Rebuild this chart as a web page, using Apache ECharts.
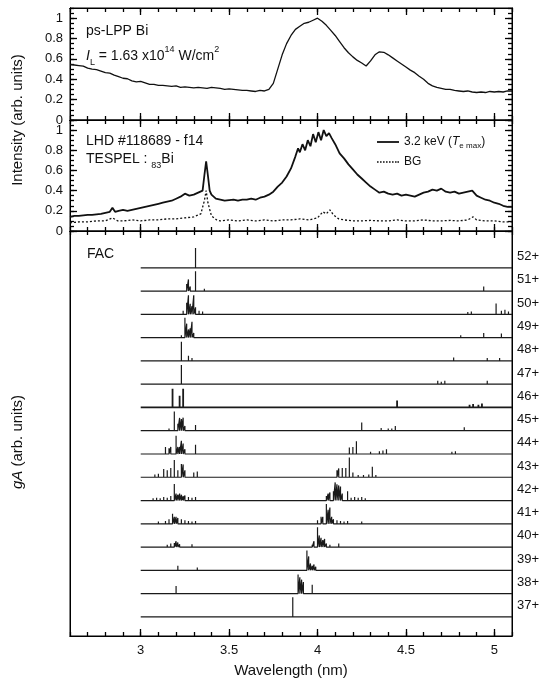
<!DOCTYPE html>
<html>
<head>
<meta charset="utf-8">
<script src="https://cdn.jsdelivr.net/npm/echarts@6/dist/echarts.min.js"></script>
<style>
html,body{margin:0;padding:0;background:#fff;}
#c{width:551px;height:686px;}
</style>
</head>
<body>
<div id="c"></div>
<script>
// ---------------- DATA ----------------
const X_MAJOR = [3, 3.5, 4, 4.5, 5];
const Y_MAJOR = [0, 0.2, 0.4, 0.6, 0.8, 1];

// ps-LPP Bi spectrum [wavelength nm, intensity]
const lppSpectrum = [
[2.600,0.545],[2.625,0.54],[2.650,0.535],[2.675,0.53],[2.700,0.51],[2.725,0.50],[2.750,0.495],[2.775,0.48],
[2.800,0.465],[2.825,0.46],[2.850,0.44],[2.875,0.425],[2.900,0.41],[2.925,0.405],[2.950,0.385],[2.975,0.375],
[3.000,0.38],[3.025,0.365],[3.050,0.35],[3.075,0.35],[3.100,0.34],[3.125,0.34],[3.150,0.335],[3.175,0.33],
[3.200,0.335],[3.225,0.32],[3.250,0.325],[3.275,0.32],[3.300,0.315],[3.325,0.32],[3.350,0.315],[3.375,0.31],
[3.400,0.32],[3.425,0.315],[3.450,0.31],[3.475,0.30],[3.500,0.305],[3.525,0.30],[3.550,0.295],[3.575,0.29],
[3.600,0.29],[3.625,0.285],[3.650,0.28],[3.675,0.29],[3.700,0.285],[3.725,0.30],[3.750,0.36],[3.775,0.50],
[3.800,0.64],[3.825,0.75],[3.850,0.83],[3.875,0.89],[3.900,0.92],[3.925,0.95],[3.950,0.96],[3.975,0.98],
[4.000,1.0],[4.025,0.97],[4.050,0.93],[4.075,0.88],[4.100,0.83],[4.125,0.77],[4.150,0.71],[4.175,0.66],
[4.200,0.62],[4.225,0.585],[4.250,0.56],[4.275,0.53],[4.300,0.58],[4.325,0.64],[4.350,0.67],[4.375,0.665],
[4.400,0.64],[4.425,0.61],[4.450,0.58],[4.475,0.55],[4.500,0.52],[4.525,0.49],[4.550,0.465],[4.575,0.43],
[4.600,0.40],[4.625,0.36],[4.650,0.335],[4.675,0.32],[4.700,0.31],[4.725,0.30],[4.750,0.30],[4.775,0.29],
[4.800,0.285],[4.825,0.28],[4.850,0.285],[4.875,0.275],[4.900,0.27],[4.925,0.275],[4.950,0.27],[4.975,0.28],
[5.000,0.275],[5.025,0.28],[5.050,0.275],[5.075,0.285],[5.100,0.285]
];

// LHD 3.2 keV spectrum
const lhdSpectrum = [
[2.600,0.14],[2.625,0.15],[2.650,0.15],[2.675,0.155],[2.700,0.16],[2.725,0.16],[2.750,0.165],[2.775,0.17],
[2.800,0.18],[2.825,0.19],[2.840,0.23],[2.855,0.19],[2.875,0.20],[2.900,0.21],[2.925,0.20],[2.950,0.21],
[2.975,0.22],[3.000,0.23],[3.025,0.24],[3.050,0.25],[3.075,0.26],[3.100,0.27],[3.125,0.28],[3.150,0.29],
[3.175,0.30],[3.200,0.32],[3.225,0.34],[3.250,0.37],[3.275,0.35],[3.300,0.36],[3.325,0.38],[3.350,0.40],
[3.360,0.55],[3.370,0.69],[3.380,0.55],[3.390,0.40],[3.400,0.36],[3.425,0.32],[3.450,0.31],[3.475,0.30],
[3.500,0.305],[3.525,0.31],[3.550,0.30],[3.575,0.31],[3.600,0.31],[3.625,0.32],[3.650,0.31],[3.675,0.33],
[3.700,0.34],[3.725,0.36],[3.750,0.39],[3.775,0.44],[3.800,0.48],[3.825,0.54],[3.850,0.62],[3.875,0.74],
[3.890,0.82],[3.900,0.78],[3.915,0.86],[3.930,0.80],[3.945,0.90],[3.960,0.84],[3.975,0.96],[3.990,0.88],
[4.005,0.98],[4.020,0.90],[4.035,1.0],[4.050,0.94],[4.065,0.97],[4.080,0.92],[4.100,0.86],[4.125,0.77],
[4.150,0.72],[4.175,0.66],[4.200,0.61],[4.225,0.56],[4.250,0.52],[4.275,0.48],[4.300,0.44],[4.325,0.41],
[4.350,0.38],[4.375,0.39],[4.400,0.37],[4.425,0.36],[4.450,0.37],[4.475,0.35],[4.500,0.36],[4.525,0.35],
[4.550,0.34],[4.575,0.36],[4.600,0.38],[4.625,0.39],[4.650,0.41],[4.675,0.40],[4.700,0.42],[4.725,0.39],
[4.750,0.38],[4.775,0.39],[4.800,0.37],[4.825,0.38],[4.850,0.39],[4.875,0.40],[4.900,0.35],[4.925,0.33],
[4.950,0.31],[4.975,0.30],[5.000,0.28],[5.025,0.27],[5.050,0.25],[5.075,0.24],[5.100,0.24]
];

// LHD background (BG)
const bgSpectrum = [
[2.60,0.08],[2.65,0.09],[2.70,0.09],[2.75,0.10],[2.80,0.10],[2.84,0.13],[2.87,0.10],[2.90,0.10],[2.95,0.11],
[3.00,0.10],[3.05,0.11],[3.10,0.11],[3.15,0.12],[3.20,0.12],[3.25,0.13],[3.30,0.14],[3.34,0.17],[3.36,0.30],
[3.37,0.40],[3.38,0.28],[3.40,0.15],[3.43,0.11],[3.45,0.10],[3.50,0.11],[3.55,0.10],[3.60,0.11],[3.65,0.10],
[3.70,0.11],[3.75,0.10],[3.80,0.11],[3.85,0.11],[3.90,0.12],[3.95,0.11],[4.00,0.13],[4.03,0.19],[4.05,0.17],
[4.07,0.21],[4.09,0.16],[4.12,0.12],[4.15,0.11],[4.20,0.10],[4.25,0.10],[4.30,0.105],[4.35,0.10],[4.40,0.10],
[4.45,0.11],[4.50,0.10],[4.55,0.10],[4.60,0.11],[4.65,0.10],[4.70,0.10],[4.75,0.105],[4.80,0.10],[4.85,0.11],
[4.88,0.14],[4.90,0.11],[4.95,0.10],[5.00,0.10],[5.05,0.09],[5.10,0.09]
];

// FAC gA sticks per charge state: [wavelength nm, relative height]
const ionNames = ['37+','38+','39+','40+','41+','42+','43+','44+','45+','46+','47+','48+','49+','50+','51+','52+'];
const ion37 = [[3.86,0.85]];
const ion38 = [[3.20,0.33],[3.89,0.82],[3.90,0.7],[3.91,0.6],[3.92,0.5],[3.97,0.38]];
const ion39 = [[3.11,0.08],[3.14,0.05],[3.16,0.05],[3.21,0.2],[3.32,0.12],[3.92,0.08],[3.94,0.85],[3.95,0.6],[3.96,0.3],[3.97,0.2],[3.98,0.25],[3.99,0.15],[4.02,0.05],[4.04,0.05],[4.21,0.05]];
const ion40 = [[3.10,0.04],[3.15,0.1],[3.17,0.15],[3.19,0.18],[3.20,0.25],[3.21,0.2],[3.22,0.12],[3.29,0.12],[3.31,0.05],[3.34,0.04],[3.46,0.04],[3.97,0.1],[3.98,0.25],[4.00,0.85],[4.01,0.5],[4.02,0.4],[4.03,0.3],[4.04,0.35],[4.05,0.15],[4.07,0.1],[4.12,0.15],[4.15,0.05],[4.28,0.04],[4.42,0.04],[4.60,0.04]];
const ion41 = [[3.04,0.05],[3.07,0.08],[3.10,0.1],[3.12,0.08],[3.14,0.12],[3.16,0.2],[3.18,0.43],[3.19,0.3],[3.20,0.3],[3.21,0.25],[3.23,0.2],[3.25,0.15],[3.27,0.12],[3.29,0.1],[3.31,0.12],[3.35,0.05],[3.38,0.05],[3.42,0.05],[3.45,0.04],[4.00,0.15],[4.02,0.3],[4.03,0.3],[4.05,0.85],[4.06,0.6],[4.07,0.7],[4.08,0.3],[4.09,0.2],[4.11,0.15],[4.13,0.12],[4.15,0.1],[4.17,0.12],[4.20,0.08],[4.23,0.08],[4.25,0.1],[4.30,0.05],[4.32,0.05],[4.42,0.05],[4.50,0.05],[4.55,0.05],[4.60,0.05],[4.65,0.05],[4.70,0.05],[4.73,0.05]];
const ion42 = [[3.05,0.05],[3.07,0.1],[3.09,0.12],[3.11,0.1],[3.13,0.15],[3.15,0.12],[3.17,0.2],[3.19,0.71],[3.20,0.3],[3.21,0.25],[3.22,0.3],[3.23,0.25],[3.24,0.2],[3.25,0.22],[3.27,0.15],[3.29,0.12],[3.31,0.15],[3.33,0.08],[3.35,0.06],[3.38,0.05],[3.41,0.05],[3.44,0.04],[3.47,0.05],[3.50,0.04],[3.57,0.04],[4.05,0.2],[4.06,0.3],[4.07,0.35],[4.09,0.4],[4.10,0.78],[4.11,0.7],[4.12,0.65],[4.13,0.6],[4.14,0.3],[4.17,0.4],[4.19,0.12],[4.21,0.15],[4.23,0.12],[4.25,0.15],[4.27,0.1],[4.30,0.05],[4.33,0.05],[4.36,0.05],[4.40,0.04],[4.44,0.04],[4.56,0.04],[4.60,0.05],[4.63,0.05],[4.66,0.04],[4.70,0.05],[4.75,0.04],[4.80,0.04],[4.85,0.04],[4.92,0.04],[4.98,0.04],[5.03,0.04]];
const ion43 = [[3.08,0.12],[3.10,0.15],[3.13,0.35],[3.15,0.3],[3.17,0.4],[3.19,0.74],[3.21,0.3],[3.23,0.57],[3.24,0.55],[3.25,0.3],[3.30,0.2],[3.32,0.25],[3.37,0.08],[3.40,0.06],[3.45,0.05],[4.11,0.3],[4.12,0.38],[4.14,0.4],[4.16,0.4],[4.18,0.85],[4.20,0.2],[4.23,0.1],[4.26,0.1],[4.29,0.12],[4.31,0.45],[4.33,0.1],[4.45,0.05],[4.70,0.05],[4.75,0.05],[4.80,0.04],[4.85,0.05]];
const ion44 = [[3.14,0.3],[3.16,0.25],[3.17,0.3],[3.20,0.78],[3.21,0.3],[3.22,0.3],[3.23,0.57],[3.24,0.45],[3.25,0.2],[3.31,0.4],[3.36,0.05],[3.43,0.08],[3.46,0.05],[4.18,0.28],[4.20,0.3],[4.22,0.55],[4.30,0.1],[4.35,0.12],[4.37,0.15],[4.39,0.2],[4.76,0.1],[4.78,0.12]];
const ion45 = [[3.10,0.05],[3.13,0.08],[3.16,0.1],[3.19,0.82],[3.21,0.3],[3.22,0.55],[3.23,0.5],[3.24,0.56],[3.25,0.2],[3.31,0.25],[3.40,0.06],[3.43,0.08],[3.45,0.07],[4.25,0.35],[4.34,0.08],[4.36,0.12],[4.40,0.1],[4.42,0.1],[4.44,0.2],[4.81,0.07],[4.83,0.15],[4.85,0.08],[4.99,0.06]];
const ion46 = [[3.18,0.8],[3.22,0.5],[3.24,0.8],[3.43,0.06],[4.45,0.3],[4.86,0.12],[4.88,0.15],[4.91,0.12],[4.93,0.17],[5.03,0.05]];
const ion47 = [[3.23,0.82],[4.68,0.15],[4.70,0.1],[4.72,0.15],[4.96,0.15],[5.01,0.05]];
const ion48 = [[3.23,0.82],[3.27,0.22],[3.29,0.12],[4.77,0.15],[4.90,0.08],[4.96,0.12],[5.03,0.12]];
const ion49 = [[3.23,0.1],[3.25,0.85],[3.26,0.6],[3.27,0.35],[3.28,0.4],[3.29,0.68],[3.30,0.2],[3.35,0.06],[4.79,0.06],[4.81,0.1],[4.94,0.2],[4.98,0.06],[5.04,0.18]];
const ion50 = [[3.24,0.15],[3.26,0.5],[3.27,0.82],[3.28,0.45],[3.29,0.35],[3.30,0.82],[3.31,0.3],[3.33,0.15],[3.35,0.12],[4.83,0.08],[4.85,0.1],[4.87,0.12],[4.89,0.06],[5.01,0.47],[5.04,0.15],[5.06,0.2],[5.08,0.12]];
const ion51 = [[3.26,0.3],[3.27,0.5],[3.28,0.2],[3.31,0.85],[3.36,0.1],[4.94,0.2],[5.02,0.06],[5.05,0.06],[5.08,0.05]];
const ion52 = [[3.31,0.85]];
const ionSticks = [ion37,ion38,ion39,ion40,ion41,ion42,ion43,ion44,ion45,ion46,ion47,ion48,ion49,ion50,ion51,ion52];
const FAC_START = 3.0, FAC_END = 5.1;

// ---------------- CHART ----------------
const FONT = '"Liberation Sans", Arial, Helvetica, sans-serif';
const INK = '#111';
const chart = echarts.init(document.getElementById('c'), null, {renderer: 'canvas'});
const lineOn = {show: true, onZero: false, lineStyle: {color: '#000', width: 1}};
const tickLine = {color: '#000', width: 1.3};

const GRID_TOPS = [8, 120, 231], GRID_HEIGHTS = [112, 111, 405];
const grids = [0, 1, 2].map(i => ({left: 70, right: 39, top: GRID_TOPS[i], height: GRID_HEIGHTS[i],
  show: true, borderColor: '#000', borderWidth: 1}));

// x axes: per grid, major (custom values) + minor (every 0.1 from min 2.6), bottom and top
const xAxes = [];
[0, 1, 2].forEach(gi => {
  ['bottom', 'top'].forEach(pos => {
    const labels = gi === 2 && pos === 'bottom';
    xAxes.push({gridIndex: gi, type: 'value', min: 2.6, max: 5.1, position: pos,
      axisLine: lineOn, splitLine: {show: false},
      axisTick: {show: true, inside: true, length: 7, customValues: X_MAJOR, lineStyle: tickLine},
      axisLabel: {show: labels, customValues: X_MAJOR, fontSize: 13, color: INK, fontFamily: FONT, margin: 8},
      name: labels ? 'Wavelength (nm)' : '', nameLocation: 'middle', nameGap: 27,
      nameTextStyle: {fontSize: 15, color: INK, fontFamily: FONT}});
    xAxes.push({gridIndex: gi, type: 'value', min: 2.6, max: 5.1, interval: 0.1, position: pos,
      axisLine: lineOn, splitLine: {show: false},
      axisTick: {show: true, inside: true, length: 4, lineStyle: tickLine},
      axisLabel: {show: false}});
  });
});
// y axes for the two intensity panels: left/right, major + minor (every 0.05)
const yAxes = [];
[0, 1].forEach(gi => {
  ['left', 'right'].forEach(pos => {
    yAxes.push({gridIndex: gi, type: 'value', min: 0, max: 1.1, position: pos,
      axisLine: lineOn, splitLine: {show: false},
      axisTick: {show: true, inside: true, length: 7, customValues: Y_MAJOR, lineStyle: tickLine},
      axisLabel: {show: pos === 'left', customValues: Y_MAJOR, fontSize: 13, color: INK, fontFamily: FONT, margin: 7}});
    yAxes.push({gridIndex: gi, type: 'value', min: 0, max: 1.1, interval: 0.05, position: pos,
      axisLine: lineOn, splitLine: {show: false},
      axisTick: {show: true, inside: true, length: 4, lineStyle: tickLine},
      axisLabel: {show: false}});
  });
});
const FAC_MIN = -0.82, FAC_MAX = 16.58;
const labelPos = ionNames.map((n, k) => k + 0.48);
const FAC_Y = yAxes.length;
yAxes.push(
  {gridIndex: 2, type: 'value', min: FAC_MIN, max: FAC_MAX, position: 'left',
    axisLine: lineOn, axisTick: {show: false}, axisLabel: {show: false}, splitLine: {show: false}},
  {gridIndex: 2, type: 'value', min: FAC_MIN, max: FAC_MAX, position: 'right',
    axisLine: lineOn, axisTick: {show: false}, splitLine: {show: false},
    axisLabel: {show: true, customValues: labelPos, margin: 5, fontSize: 13, color: INK, fontFamily: FONT,
      formatter: v => ionNames[Math.round(v - 0.48)]}}
);

const series = [
  {name: 'ps', type: 'line', xAxisIndex: 0, yAxisIndex: 0, data: lppSpectrum, showSymbol: false, symbol: 'none',
    lineStyle: {color: INK, width: 1.3}, z: 5},
  {name: 'solid', type: 'line', xAxisIndex: 4, yAxisIndex: 4, data: lhdSpectrum, showSymbol: false, symbol: 'none',
    lineStyle: {color: INK, width: 1.8}, itemStyle: {color: INK}, z: 5},
  {name: 'BG', type: 'line', xAxisIndex: 4, yAxisIndex: 4, data: bgSpectrum, showSymbol: false, symbol: 'none',
    lineStyle: {color: INK, width: 1.3, type: [2, 2]}, itemStyle: {color: INK}, z: 5}
];
ionSticks.forEach((sticks, k) => {
  const pts = [[FAC_START, k]];
  sticks.slice().sort((a, b) => a[0] - b[0]).forEach(s => {
    pts.push([s[0], k], [s[0], k + s[1]], [s[0], k]);
  });
  pts.push([FAC_END, k]);
  series.push({name: ionNames[k], type: 'line', xAxisIndex: 8, yAxisIndex: FAC_Y, data: pts,
    showSymbol: false, symbol: 'none', lineStyle: {color: '#1a1a1a', width: ionNames[k] === '46+' ? 1.8 : 1.2}, z: 5});
});

const SOLID_ICON = 'path://M0,0h22v1.8h-22z';
const DOT_ICON = 'path://M0,0h1.6v1.4h-1.6zM3,0h1.6v1.4h-1.6zM6,0h1.6v1.4h-1.6zM9,0h1.6v1.4h-1.6zM12,0h1.6v1.4h-1.6zM15,0h1.6v1.4h-1.6zM18,0h1.6v1.4h-1.6zM20.4,0h1.6v1.4h-1.6z';

const option = {
  animation: false,
  backgroundColor: '#fff',
  grid: grids,
  xAxis: xAxes,
  yAxis: yAxes,
  legend: {
    data: [{name: 'solid', icon: SOLID_ICON}, {name: 'BG', icon: DOT_ICON}],
    orient: 'vertical', left: 372, top: 131, itemGap: 6,
    itemWidth: 22, itemHeight: 12,
    textStyle: {fontSize: 12, color: INK, fontFamily: FONT,
      rich: {it: {fontStyle: 'italic', fontSize: 12, fontFamily: FONT, color: INK},
             sub: {fontSize: 8, fontFamily: FONT, color: INK, verticalAlign: 'bottom', lineHeight: 16}}},
    formatter: n => n === 'solid' ? '3.2 keV ({it|T}{sub|e max})' : 'BG'
  },
  graphic: [
    {type: 'text', x: 86, y: 31, style: {text: 'ps-LPP Bi', fontSize: 14, fontFamily: FONT, fill: INK, verticalAlign: 'middle'}},
    {type: 'text', x: 86, y: 56, style: {
      text: '{it|I}{sub|L} = 1.63 x10{sup|14} W/cm{sup|2}', fontSize: 14, fontFamily: FONT, fill: INK,
      verticalAlign: 'middle', lineHeight: 22,
      rich: {it: {fontStyle: 'italic', fontSize: 14, fontFamily: FONT, fill: INK},
             sub: {fontSize: 9, fontFamily: FONT, verticalAlign: 'bottom', fill: INK},
             sup: {fontSize: 9, fontFamily: FONT, verticalAlign: 'top', fill: INK}}}},
    {type: 'text', x: 86, y: 141, style: {text: 'LHD #118689 - f14', fontSize: 14, fontFamily: FONT, fill: INK, verticalAlign: 'middle'}},
    {type: 'text', x: 86, y: 159, style: {
      text: 'TESPEL : {sub|83}Bi', fontSize: 14, fontFamily: FONT, fill: INK, verticalAlign: 'middle', lineHeight: 22,
      rich: {sub: {fontSize: 9, fontFamily: FONT, verticalAlign: 'bottom', fill: INK}}}},
    {type: 'text', x: 87, y: 254, style: {text: 'FAC', fontSize: 14, fontFamily: FONT, fill: INK, verticalAlign: 'middle'}},
    {type: 'text', x: 18, y: 120, rotation: Math.PI / 2, style: {
      text: 'Intensity (arb. units)', fontSize: 15, fontFamily: FONT, fill: INK, align: 'center', verticalAlign: 'middle'}},
    {type: 'text', x: 18, y: 442, rotation: Math.PI / 2, style: {
      text: '{it|gA} (arb. units)', fontSize: 15, fontFamily: FONT, fill: INK, align: 'center', verticalAlign: 'middle',
      rich: {it: {fontStyle: 'italic', fontSize: 15, fontFamily: FONT, fill: INK}}}}
  ],
  series: series
};
chart.setOption(option);
</script>
</body>
</html>
